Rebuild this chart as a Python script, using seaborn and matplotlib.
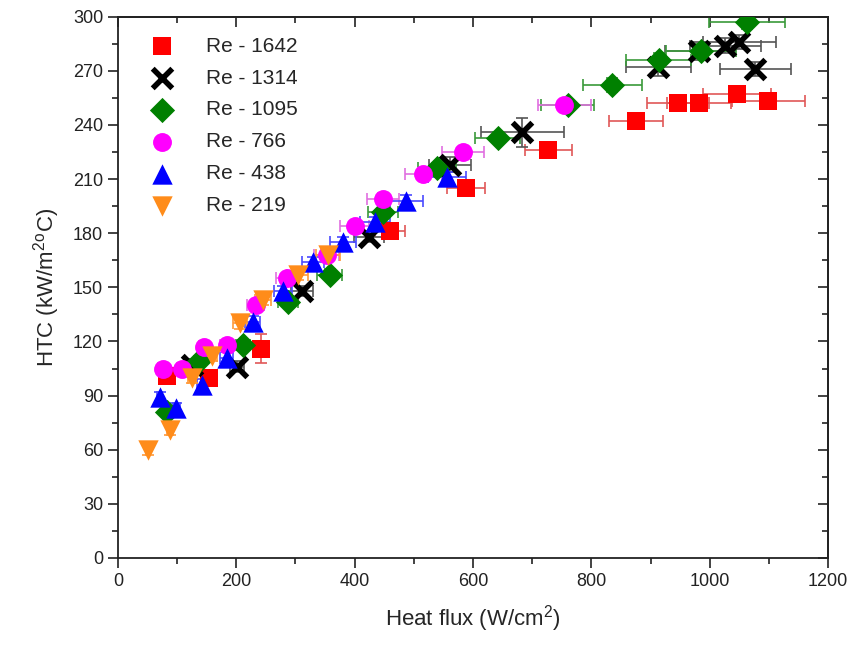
import numpy as np
import pandas as pd
import seaborn as sns
import matplotlib.pyplot as plt
from matplotlib.ticker import MultipleLocator

# Re - 1642
x_1642 = [83, 154, 242, 460, 588, 727, 875, 946, 982, 1046, 1099]
y_1642 = [101, 100, 116, 181, 205, 226, 242, 252, 252, 257, 253]
xe_1642 = [5, 9, 14, 25, 32, 40, 46, 52, 54, 58, 61]
ye_1642 = [3, 3, 8, 4, 4, 4, 4, 3, 3, 3, 3]

# Re - 1314
x_1314 = [125, 201, 311, 424, 561, 683, 913, 982, 1026, 1050, 1077]
y_1314 = [107, 106, 148, 178, 218, 236, 272, 281, 284, 286, 271]
xe_1314 = [8, 12, 18, 25, 35, 70, 55, 58, 60, 62, 60]
ye_1314 = [3, 3, 3, 3, 4, 8, 5, 5, 4, 4, 4]

# Re - 1095
x_1095 = [83, 137, 211, 287, 358, 448, 539, 642, 760, 835, 914, 985, 1063]
y_1095 = [81, 109, 118, 142, 157, 192, 216, 233, 251, 262, 276, 281, 297]
xe_1095 = [5, 8, 12, 17, 21, 26, 32, 38, 45, 50, 55, 59, 64]
ye_1095 = [3, 3, 3, 3, 3, 3, 3, 3, 3, 4, 4, 4, 4]

# Re - 766
x_766 = [76, 108, 146, 184, 233, 285, 353, 400, 448, 516, 583, 754]
y_766 = [105, 105, 117, 118, 140, 155, 168, 184, 199, 213, 225, 251]
xe_766 = [4, 6, 9, 11, 14, 17, 21, 24, 27, 31, 35, 45]
ye_766 = [3, 3, 3, 3, 3, 3, 3, 3, 3, 3, 3, 3]

# Re - 438
x_438 = [71, 99, 142, 184, 228, 279, 330, 380, 434, 487, 556]
y_438 = [89, 83, 96, 111, 131, 148, 164, 175, 186, 198, 211]
xe_438 = [4, 6, 8, 11, 13, 16, 19, 22, 25, 28, 32]
ye_438 = [3, 3, 3, 3, 3, 3, 3, 3, 3, 3, 3]

# Re - 219
x_219 = [51, 88, 125, 159, 206, 245, 304, 355]
y_219 = [60, 71, 100, 112, 130, 143, 157, 168]
xe_219 = [3, 5, 7, 9, 12, 14, 18, 20]
ye_219 = [3, 3, 3, 3, 3, 3, 3, 3]

series = [
    ("Re - 1642", x_1642, y_1642, xe_1642, ye_1642, "#ff0000", "#e05858", "s", 170, 0),
    ("Re - 1314", x_1314, y_1314, xe_1314, ye_1314, "#000000", "#555555", "x", 200, 4),
    ("Re - 1095", x_1095, y_1095, xe_1095, ye_1095, "#008000", "#3a9a3a", "D", 165, 0),
    ("Re - 766", x_766, y_766, xe_766, ye_766, "#ff00ff", "#e070e0", "o", 185, 0),
    ("Re - 438", x_438, y_438, xe_438, ye_438, "#0000ff", "#4a4aff", "^", 215, 0),
    ("Re - 219", x_219, y_219, xe_219, ye_219, "#ff8c1a", "#ff9a3a", "v", 215, 0),
]

sns.set_style("ticks")
plt.rcParams['font.family'] = ['Liberation Sans', 'DejaVu Sans']
plt.rcParams['mathtext.fontset'] = 'custom'
plt.rcParams['mathtext.rm'] = 'Liberation Sans'
plt.rcParams['mathtext.it'] = 'Liberation Sans'

fig = plt.figure(figsize=(8.6, 6.53), dpi=100)
ax = fig.add_axes([0.137, 0.1455, 0.826, 0.829])

for label, xs, ys, xe, ye, col, ecol, mk, sz, lw in series:
    df = pd.DataFrame({"q": xs, "htc": ys})
    ax.errorbar(xs, ys, xerr=xe, yerr=ye, fmt='none', ecolor=ecol,
                elinewidth=1.2, capsize=4, capthick=1.2, zorder=2)
    if mk == "x":
        sns.scatterplot(data=df, x="q", y="htc", ax=ax, marker=mk, color=col,
                        s=sz, linewidth=lw, label=label, zorder=3)
    else:
        sns.scatterplot(data=df, x="q", y="htc", ax=ax, marker=mk, color=col,
                        s=sz, linewidth=0, edgecolor=col, label=label, zorder=3)

ax.set_xlim(0, 1200)
ax.set_ylim(0, 300)
for a in (ax.xaxis,):
    a.set_major_locator(MultipleLocator(200))
    a.set_minor_locator(MultipleLocator(100))
ax.yaxis.set_major_locator(MultipleLocator(30))
ax.yaxis.set_minor_locator(MultipleLocator(15))
ax.tick_params(which='both', direction='out', labelsize=13, colors='#222222')
ax.tick_params(which='major', length=7, width=1.2)
ax.tick_params(which='minor', length=4, width=1.2)

# inward ticks on top and right
top = ax.secondary_xaxis('top')
top.xaxis.set_major_locator(MultipleLocator(200))
top.xaxis.set_minor_locator(MultipleLocator(100))
top.tick_params(which='both', direction='in', labeltop=False, width=1.2, colors='#222222')
top.tick_params(which='major', length=7)
top.tick_params(which='minor', length=4)
right = ax.secondary_yaxis('right')
right.yaxis.set_major_locator(MultipleLocator(30))
right.yaxis.set_minor_locator(MultipleLocator(15))
right.tick_params(which='both', direction='in', labelright=False, width=1.2, colors='#222222')
right.tick_params(which='major', length=7)
right.tick_params(which='minor', length=4)

for sp in list(ax.spines.values()) + list(top.spines.values()) + list(right.spines.values()):
    sp.set_linewidth(1.3)
    sp.set_color('#222222')

ax.set_xlabel("Heat flux (W/cm$^{2}$)", fontsize=16, labelpad=10)
ax.set_ylabel("HTC (kW/m$^{2}$$^{o}$C)", fontsize=16, labelpad=8)

leg = ax.legend(loc='upper left', bbox_to_anchor=(0.012, 0.99), frameon=False,
                fontsize=15, labelspacing=0.62, handletextpad=1.1,
                borderaxespad=0.3)

fig.savefig("out.png", dpi=100)
